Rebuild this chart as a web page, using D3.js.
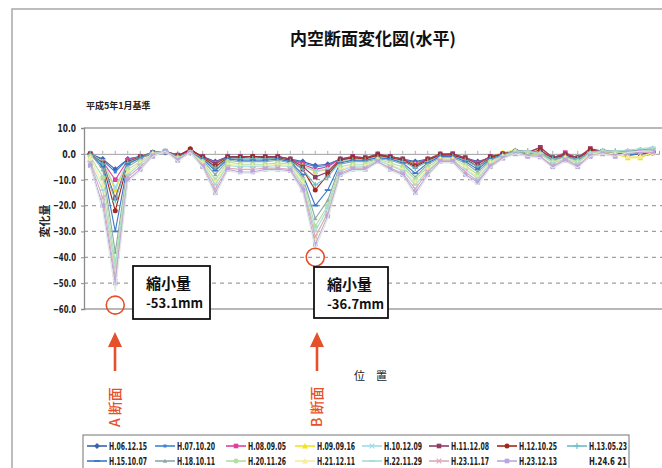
<!DOCTYPE html>
<html><head><meta charset="utf-8">
<script src="https://cdn.jsdelivr.net/npm/d3@7/dist/d3.min.js"></script>
<style>
html,body{margin:0;padding:0;background:#fff;}
svg{display:block;}
</style></head>
<body>
<svg id="c" width="662" height="468"></svg>
<script>
const positions = [1,2,3,4,5,6,7,8,9,10,11,12,13,14,15,16,17,18,19,20,21,22,23,24,25,26,27,28,29,30,31,32,33,34,35,36,37,38,39,40,41,42,43,44,45,46];
const seriesNames = ["H.06.12.15","H.07.10.20","H.08.09.05","H.09.09.16","H.10.12.09","H.11.12.08","H.12.10.25","H.13.05.23",
                     "H.15.10.07","H.18.10.11","H.20.11.26","H.21.12.11","H.22.11.29","H.23.11.17","H.23.12.13","H.24.6 21"];
const s01 = [0,-2,-6,-2,-1,0.5,0.5,-0.5,0.5,-1,-3,-1,-1.5,-1,-1.5,-1,-2,-3,-4.5,-4,-2,-1.5,-1.5,-1,-1,-2,-3,-2,-1,-1,-1.5,-3,-1.5,-0.5,0.5,0,-0.5,-1.5,-0.5,-1.5,0,0.5,0,-1,-1,0.5];
const s02 = [0,-2.5,-7,-2,-1,0.5,0.5,-0.5,0.5,-1.5,-3.5,-1.5,-1.5,-1.5,-1.5,-1.5,-2,-3.5,-5,-4.5,-2,-1.5,-2,-1,-1.5,-2,-3.5,-2,-1,-1,-2,-3.5,-1.5,-0.5,0.5,0,-0.5,-2,-1,-2,0,0,0,-1,-1,0];
const s03 = [0,-3,-10,-2.5,-1,0.5,1,-0.5,1,-1,-3.5,-1,-1,-1,-1,-1,-2,-4,-6,-5,-2,-1,-1.5,-0.5,-1,-2,-4,-2,-0.5,0,-1.5,-3.5,-1,0,1,0.5,2.5,-1.5,0.5,-1.5,2,0.5,0.5,0,0.5,1];
const s04 = [0,-3,-14,-3,-1,0.5,1,-1,0.5,-1.5,-4,-1.5,-1.5,-1.5,-1.5,-1.5,-2.5,-4.5,-7,-6,-2.5,-2,-2,-1,-1.5,-2.5,-4,-2.5,-1,-1,-2,-4,-1.5,0.5,1.5,-0.5,0,-2,-1,-2,0,0.5,0,-1.5,-1.5,0.5];
const s05 = [0,-3,-13,-3,-1.5,0.5,1,-1,0.5,-1.5,-4.5,-2,-2,-2,-2,-1.5,-2.5,-5,-6.5,-6,-2.5,-2,-2,-1,-2,-2.5,-4.5,-2.5,-1,-1,-2,-4.5,-2,-0.5,1,0.5,0,-2,-1,-2,0.5,1,0.5,0,1,1.5];
const s06 = [0,-3.5,-17,-3,-1,0.5,1,-0.5,1.5,-1,-4,-1,-1,-1,-1,-1,-2,-5,-9,-7,-2,-1,-1.5,0,-1,-2,-4.5,-2,0,0,-1.5,-4,-1,0,1,0.5,2.5,-1.5,0,-1.5,2,1,0.5,0,0.5,1];
const s07 = [0,-4,-22,-3.5,-1.5,0,1,-1,2,-1.5,-5,-1.5,-1.5,-1,-1.5,-1.5,-2.5,-6,-14,-8,-2.5,-1.5,-2,-0.5,-1.5,-2.5,-5,-2.5,-0.5,-0.5,-2,-5,-1.5,0,1,0,1.5,-2,-0.5,-2,1.5,0.5,0,-0.5,0,0.5];
const s08 = [0,-4,-18,-3.5,-1.5,0.5,1,-1,0.5,-2,-5.5,-2,-2,-2,-2,-2,-3,-6,-12,-9,-3,-2.5,-2.5,-1.5,-2,-3,-5.5,-3,-1,-1,-2.5,-5,-2,-0.5,1,1,0.5,-2,-1,-2,0.5,1,1,1,1.5,2];
const s09 = [0,-5,-30,-4,-1.5,0.5,1,-1,0.5,-2,-6.5,-2,-2.5,-2.5,-2.5,-2,-3,-8,-20,-14,-3.5,-2.5,-2.5,-1.5,-2,-3.5,-7.5,-3.5,-1,-1,-3,-6,-2,-0.5,1,0,0,-2.5,-1,-2.5,0.5,1,0.5,-0.5,0,1];
const s10 = [0,-6,-38,-5,-2,0.5,1,-1.5,0.5,-2.5,-8,-2.5,-3,-3,-3,-2.5,-3.5,-9,-25,-18,-4,-3,-3,-2,-2.5,-4,-9,-4,-1.5,-1.5,-3.5,-7,-2.5,-0.5,1.5,1,0.5,-2.5,-1,-2.5,0.5,1.5,1,1,1.5,2];
const s11 = [-1,-9,-42,-6,-3,0,1,-1.5,0.5,-3,-10,-3,-4,-4,-4,-3.5,-4,-10,-28,-20,-5,-4,-4,-2,-3.5,-5,-10,-5,-2,-2,-4.5,-8,-3,-1,1,0.5,0,-3,-1.5,-3,0,1,0.5,0.5,1,1.5];
const s12 = [-1.5,-12,-46,-7,-3.5,0,1,-2,0.5,-3.5,-11,-4,-4.5,-4.5,-4.5,-4,-4.5,-11,-33,-22,-6,-4.5,-4.5,-2.5,-4,-6,-11,-6,-2,-2,-5,-9,-3.5,-1,0.5,-0.5,-0.5,-3.5,-1.5,-3.5,0,0.5,0,-1,-1,0.5];
const s13 = [-3,-14,-44,-8,-4,0,1,-2,0.5,-4,-12,-4.5,-5,-5,-5,-4.5,-5,-12,-30,-21,-6.5,-5,-5,-2.5,-4.5,-6.5,-12,-6.5,-2.5,-2.5,-6,-9.5,-4,-1,0.5,1,0,-3.5,-2,-3.5,0.5,1,1,1.5,2,2.5];
const s14 = [-3.5,-17,-48,-9,-5,-0.5,1,-2,0.5,-4.5,-13.5,-5.5,-6,-6,-5.5,-5.5,-6,-13,-32,-23,-7.5,-5.5,-5.5,-3,-5.5,-7.5,-13.5,-7,-2.5,-2.5,-7,-10.5,-4.5,-1.5,0,-0.5,-1,-4.5,-2,-4.5,-0.5,0,-0.5,0,0.5,0.5];
const s15 = [-4.5,-20,-50,-10,-6,-1,1,-2.5,0.5,-5,-15,-6,-7,-7,-6,-6,-6.5,-14,-35,-24,-8,-6,-6,-3,-6,-8,-15,-8,-3,-3,-8,-11,-5,-1.7,0,-1,-1.2,-5,-2.5,-5,-1,0,-1,0.5,1,1];
const s16 = [-5,-22,-53.1,-11,-6.5,-1,1,-3,0.5,-5.5,-16,-6.5,-7.5,-7.5,-6.5,-6.5,-7,-15,-36.7,-25,-8.5,-6.5,-6.5,-3.5,-6.5,-8.5,-16,-8.5,-3.5,-3.5,-8.5,-12,-5.5,-2,0,-1,-1.5,-5.5,-3,-5.5,-1,0,-1,0.5,1,1];
const yTicks = [10,0,-10,-20,-30,-40,-50,-60];
const seriesColors = ["#3a62ad","#3f82d6","#e0409c","#f2e41c","#9fdbe6","#8e3d64","#a3281a","#6bbcc6",
                      "#3a78c8","#8aa9a8","#b2e0a2","#f4ee9c","#a6dcd6","#dbaabb","#b9a6de","#dde9e3"];
const seriesMarkers = ["diamond","smallsq","square","triangle","x","square","circle","plus",
                       "dash","smalltri","circle","triangle","dash","x","square","none"];

const allSeries = [s01,s02,s03,s04,s05,s06,s07,s08,s09,s10,s11,s12,s13,s14,s15,s16];
const svg = d3.select("#c");
const CJK = "'Noto Sans CJK JP','Noto Sans CJK SC',sans-serif";
const NARROW = "'Liberation Sans Narrow','DejaVu Sans Condensed','Liberation Sans',sans-serif";

// outer frame
svg.append("path").attr("d","M12,468 L12,9 L662,9").attr("fill","none").attr("stroke","#a8a8a8").attr("stroke-width",1.5);

// title
svg.append("text").attr("x",373).attr("y",45).attr("text-anchor","middle")
  .style("font-family",CJK).style("font-size","17px").style("font-weight","bold").attr("fill","#111")
  .text("内空断面変化図(水平)");
svg.append("text").attr("x",86).attr("y",109)
  .style("font-family",CJK).style("font-size","9px").style("font-weight","bold").attr("fill","#222")
  .text("平成5年1月基準");

const pLeft = 84, pRight = 659, pTop = 128, pBottom = 309;
const x = d3.scaleBand().domain(positions).range([pLeft, pRight]);
const xc = d => x(d) + x.bandwidth()/2;
const y = d3.scaleLinear().domain([-60,10]).range([pBottom, pTop]);

// gridlines
const g = svg.append("g");
yTicks.filter(t => t<10 && t>-60 && t!==0).forEach(t => {
  g.append("line").attr("x1",pLeft).attr("x2",662).attr("y1",y(t)).attr("y2",y(t))
   .attr("stroke","#a0a0a0").attr("stroke-width",1.2).attr("stroke-dasharray","4,4");
});
g.append("line").attr("x1",pLeft).attr("x2",662).attr("y1",y(10)).attr("y2",y(10)).attr("stroke","#a0a0a0").attr("stroke-width",1.3);
g.append("line").attr("x1",pLeft).attr("x2",662).attr("y1",y(-60)).attr("y2",y(-60)).attr("stroke","#a0a0a0").attr("stroke-width",1.3);

// y axis
const yAxis = d3.axisLeft(y).tickValues(yTicks).tickFormat(d3.format(".1f")).tickSize(3).tickPadding(5);
const ya = svg.append("g").attr("transform",`translate(${pLeft},0)`).call(yAxis);
ya.select(".domain").attr("stroke","#8a8a8a").attr("stroke-width",1.3);
ya.selectAll(".tick line").attr("stroke","#8a8a8a");
ya.selectAll("text").style("font-family",NARROW).style("font-size","10.5px").style("font-weight","bold").attr("fill","#222")
  .each(function(d){ const s = d3.format(".1f")(d); d3.select(this).attr("textLength", s.length*4.6).attr("lengthAdjust","spacingAndGlyphs"); });

// x axis at zero
const xAxis = d3.axisBottom(x).tickValues(positions).tickFormat("").tickSize(-3);
const xa = svg.append("g").attr("transform",`translate(0,${y(0)})`).call(xAxis);
xa.select(".domain").attr("stroke","#a0a0a0").attr("stroke-width",1);
xa.selectAll(".tick line").attr("stroke","#aaa");

// y label
svg.append("text").attr("transform","translate(49,221) rotate(-90)").attr("text-anchor","middle")
  .style("font-family",CJK).style("font-size","11px").style("font-weight","bold").attr("fill","#222")
  .text("変化量");

function marker(sel, type, color, cx, cy) {
  const s = 2.3;
  if (type==="none") return;
  if (type==="diamond") sel.append("path").attr("d",`M${cx},${cy-3}L${cx+3},${cy}L${cx},${cy+3}L${cx-3},${cy}Z`).attr("fill",color);
  else if (type==="square") sel.append("rect").attr("x",cx-s).attr("y",cy-s).attr("width",2*s).attr("height",2*s).attr("fill",color);
  else if (type==="smallsq") sel.append("rect").attr("x",cx-1.5).attr("y",cy-1.5).attr("width",3).attr("height",3).attr("fill",color);
  else if (type==="triangle") sel.append("path").attr("d",`M${cx},${cy-3}L${cx+3},${cy+2.4}L${cx-3},${cy+2.4}Z`).attr("fill",color);
  else if (type==="smalltri") sel.append("path").attr("d",`M${cx},${cy-2.2}L${cx+2.2},${cy+1.8}L${cx-2.2},${cy+1.8}Z`).attr("fill",color);
  else if (type==="circle") sel.append("circle").attr("cx",cx).attr("cy",cy).attr("r",2.5).attr("fill",color);
  else if (type==="x") sel.append("path").attr("d",`M${cx-2.3},${cy-2.3}L${cx+2.3},${cy+2.3}M${cx-2.3},${cy+2.3}L${cx+2.3},${cy-2.3}`).attr("stroke",color).attr("stroke-width",1.2);
  else if (type==="plus") sel.append("path").attr("d",`M${cx-3},${cy}L${cx+3},${cy}M${cx},${cy-3}L${cx},${cy+3}`).attr("stroke",color).attr("stroke-width",1.2);
  else if (type==="dash") sel.append("path").attr("d",`M${cx-3},${cy}L${cx+3},${cy}`).attr("stroke",color).attr("stroke-width",1.8);
}

// series
const line = d3.line().x((d,i)=>xc(positions[i])).y(d=>y(d));
const plot = svg.append("g");
allSeries.forEach((vals, k) => {
  const gg = plot.append("g");
  gg.append("path").attr("d", line(vals)).attr("fill","none").attr("stroke",seriesColors[k]).attr("stroke-width",1.1);
  vals.forEach((v,i) => marker(gg, seriesMarkers[k], seriesColors[k], xc(positions[i]), y(v)));
});

// annotation circles
const red = "#e5512a";
[[3,-58.5],[19,-40]].forEach(([p,v]) => {
  svg.append("circle").attr("cx",xc(p)).attr("cy",y(v)).attr("r",9).attr("fill","none").attr("stroke",red).attr("stroke-width",1.6);
});

// boxes
function box(bx,by,bw,bh,val){
  svg.append("rect").attr("x",bx).attr("y",by).attr("width",bw).attr("height",bh).attr("fill","#fff").attr("stroke","#111").attr("stroke-width",1.8);
  svg.append("text").attr("x",bx+13).attr("y",by+23).style("font-family",CJK).style("font-size","15px").style("font-weight","bold").attr("fill","#111").text("縮小量");
  svg.append("text").attr("x",bx+13).attr("y",by+42).style("font-family",CJK).style("font-size","13px").style("font-weight","bold").attr("fill","#111").text(val);
}
box(133,266,77,53,"-53.1mm");
box(314,267,74,51,"-36.7mm");

// arrows + labels
function arrow(cx,label){
  svg.append("path").attr("d",`M${cx},332 L${cx+7},347 L${cx-7},347 Z`).attr("fill",red);
  svg.append("line").attr("x1",cx).attr("x2",cx).attr("y1",345).attr("y2",371).attr("stroke",red).attr("stroke-width",2.6);
  svg.append("text").attr("transform",`translate(${cx+5},427) rotate(-90)`).attr("text-anchor","start")
    .style("font-family",CJK).style("font-size","14px").style("font-weight","500").attr("fill",red).text(label);
}
arrow(115,"A 断面");
arrow(317,"B 断面");

svg.append("text").attr("x",354).attr("y",380)
  .style("font-family",CJK).style("font-size","11px").attr("fill","#222").text("位　置");

// legend
svg.append("rect").attr("x",83).attr("y",435).attr("width",546).attr("height",45).attr("fill","#fff").attr("stroke","#8a8a8a").attr("stroke-width",1.2);
const colX = [109,177,248,317,384,451,519,589];
const rowY = [446,461];
seriesNames.forEach((nm,k) => {
  const tx = colX[k%8], ty = rowY[Math.floor(k/8)];
  const lg = svg.append("g");
  if (k !== 15) {
    lg.append("line").attr("x1",tx-22).attr("x2",tx-2).attr("y1",ty).attr("y2",ty).attr("stroke",seriesColors[k]).attr("stroke-width",1.6);
    marker(lg, seriesMarkers[k], seriesColors[k], tx-12, ty);
  }
  lg.append("text").attr("x",tx).attr("y",ty+4).attr("textLength",38).attr("lengthAdjust","spacingAndGlyphs")
    .style("font-family",NARROW).style("font-size","11px").style("font-weight","bold").attr("fill","#222").text(nm);
});
</script>
</body></html>
